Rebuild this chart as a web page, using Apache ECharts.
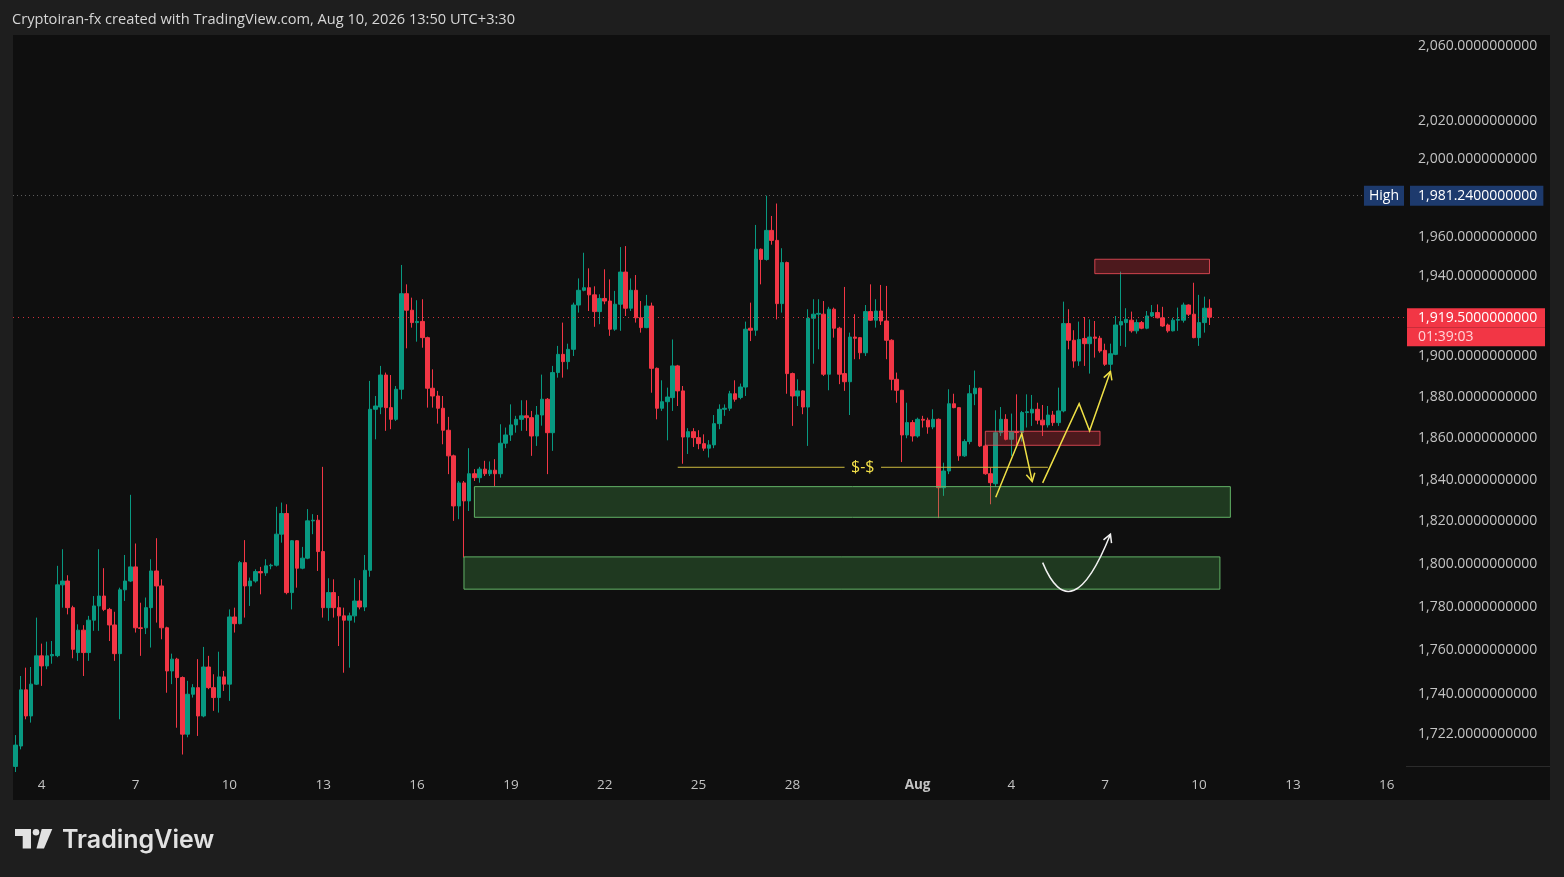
<!DOCTYPE html>
<html><head><meta charset="utf-8">
<script src="https://cdn.jsdelivr.net/npm/echarts@6/dist/echarts.min.js"></script>
<style>html,body{margin:0;padding:0;background:#1e1e1e;}#c{width:1564px;height:877px;}</style>
</head><body><div id="c"></div>
<script>
// ---- 4h candles ----
const openP = [
1707.5,1716.6,1741.9,1730.1,1744.5,1757.4,1752.8,1757.4,1757.5,1790.2,
1792.0,1779.6,1758.9,1769.2,1758.9,1773.8,1780.4,1785.0,1778.8,1771.6,
1758.4,1787.9,1792.0,1798.6,1770.3,1770.3,1779.6,1796.7,1789.7,1770.3,
1750.5,1755.9,1747.5,1721.9,1739.9,1742.9,1730.1,1752.3,1742.9,1738.4,
1747.8,1744.5,1775.3,1772.2,1800.6,1789.7,1792.0,1796.4,1795.8,1799.1,
1799.4,1814.0,1823.8,1786.6,1810.9,1798.0,1802.7,1820.3,1820.6,1805.8,
1779.6,1786.6,1779.6,1775.8,1773.8,1775.8,1782.7,1779.9,1797.0,1874.0,
1875.1,1890.8,1874.8,1869.1,1883.8,1931.3,1923.0,1916.8,1917.4,1909.3,
1884.3,1880.5,1874.5,1863.8,1851.4,1827.4,1838.4,1829.8,1842.8,1840.9,
1845.0,1842.8,1844.5,1842.8,1857.5,1861.5,1866.4,1869.1,1870.8,1869.9,
1861.0,1871.2,1878.9,1862.6,1892.0,1901.0,1897.4,1903.5,1925.6,1933.0,
1934.3,1930.7,1922.3,1928.9,1927.6,1913.5,1926.0,1942.2,1924.0,1933.0,
1919.2,1914.3,1925.1,1894.1,1874.5,1877.7,1879.7,1895.3,1883.0,1860.5,
1863.1,1860.2,1857.3,1855.1,1856.7,1867.0,1874.0,1874.5,1881.6,1879.8,
1884.9,1914.0,1913.0,1953.8,1948.6,1963.4,1958.3,1926.3,1947.0,1891.5,
1880.5,1883.0,1875.1,1919.0,1921.0,1921.0,1891.2,1923.5,1914.0,1891.5,
1887.5,1909.6,1909.3,1901.8,1922.3,1918.0,1922.6,1917.6,1908.0,1888.7,
1883.3,1861.5,1867.5,1861.0,1869.1,1868.7,1865.4,1869.1,1836.1,1844.1,
1876.7,1874.8,1851.4,1858.3,1881.6,1884.3,1856.2,1842.8,1838.0,1862.6,
1869.1,1859.4,1863.1,1862.7,1872.4,1872.2,1874.0,1868.7,1866.4,1871.2,
1867.5,1873.2,1916.3,1908.0,1897.7,1908.9,1906.3,1909.6,1909.0,1903.0,
1896.1,1901.0,1915.6,1916.8,1918.0,1912.7,1916.8,1914.0,1920.1,1921.8,
1919.2,1915.6,1912.7,1918.0,1918.0,1925.6,1921.0,1909.3,1916.8,1924.0
];
const highP = [
1721.5,1748.2,1752.0,1752.3,1775.0,1763.0,1763.9,1764.2,1799.1,1806.9,
1794.7,1780.5,1771.9,1771.5,1775.8,1785.0,1806.9,1798.0,1779.5,1777.7,
1788.9,1804.2,1832.7,1809.6,1781.9,1784.3,1802.2,1812.1,1792.8,1770.8,
1758.4,1756.5,1748.0,1746.0,1744.5,1755.9,1761.5,1757.4,1749.0,1759.3,
1750.5,1778.8,1779.6,1801.4,1811.2,1793.6,1797.5,1798.6,1802.2,1800.1,
1827.0,1829.0,1828.2,1811.2,1811.2,1808.0,1825.9,1823.5,1823.1,1846.1,
1793.3,1792.8,1785.0,1779.6,1777.3,1793.3,1792.4,1804.2,1887.9,1880.5,
1895.3,1892.0,1890.8,1885.4,1945.8,1936.0,1929.3,1928.0,1928.5,1909.8,
1893.6,1883.0,1880.5,1870.3,1852.0,1839.3,1839.3,1855.1,1845.0,1846.1,
1849.0,1848.7,1849.8,1866.7,1865.1,1876.4,1870.8,1878.4,1878.4,1873.2,
1875.6,1891.0,1879.5,1895.3,1905.2,1916.8,1906.3,1926.8,1939.0,1952.0,
1944.1,1935.0,1931.0,1943.6,1938.5,1932.7,1954.9,1955.4,1939.0,1940.7,
1927.6,1930.7,1926.8,1894.5,1888.2,1884.6,1908.4,1895.8,1885.4,1864.8,
1864.8,1863.8,1861.8,1859.0,1871.2,1876.4,1876.4,1883.0,1888.2,1886.6,
1917.3,1926.8,1966.2,1954.2,1981.24,1970.8,1977.2,1954.3,1947.5,1892.0,
1888.7,1883.3,1923.5,1928.5,1928.5,1927.6,1924.7,1924.3,1914.7,1934.7,
1911.8,1921.0,1909.6,1925.6,1936.0,1928.5,1935.7,1935.2,1908.5,1892.0,
1883.5,1877.2,1868.7,1869.9,1870.8,1869.9,1874.0,1869.5,1848.1,1883.8,
1881.6,1875.1,1859.4,1885.9,1893.0,1884.6,1857.0,1845.7,1873.5,1875.1,
1871.6,1871.9,1881.3,1873.2,1881.3,1881.0,1877.2,1876.1,1875.6,1873.2,
1884.6,1927.3,1923.5,1913.0,1917.3,1919.6,1918.4,1917.6,1910.2,1906.3,
1906.3,1920.1,1942.4,1924.0,1922.3,1918.4,1917.6,1922.6,1925.6,1925.9,
1924.7,1916.3,1919.2,1924.3,1926.8,1925.9,1936.8,1930.7,1929.8,1928.5
];
const lowP = [
1705.0,1715.1,1728.6,1727.1,1744.1,1743.7,1751.3,1753.8,1756.8,1779.6,
1776.5,1756.3,1755.1,1748.2,1755.1,1768.9,1768.9,1778.0,1764.2,1755.1,
1728.6,1782.7,1791.5,1768.1,1757.4,1767.4,1761.2,1772.7,1765.0,1740.6,
1744.5,1724.8,1712.8,1720.5,1738.4,1721.1,1729.5,1742.2,1732.4,1731.6,
1741.4,1736.9,1768.1,1771.9,1775.0,1780.4,1791.2,1785.8,1794.4,1797.5,
1798.8,1810.0,1785.8,1778.8,1788.9,1797.5,1802.2,1814.0,1796.7,1775.0,
1773.5,1775.0,1761.9,1749.7,1752.0,1772.7,1778.8,1778.0,1794.0,1859.4,
1871.6,1863.5,1864.3,1868.3,1878.9,1904.0,1914.3,1907.3,1904.3,1874.8,
1874.8,1867.0,1857.0,1842.6,1820.3,1821.1,1803.0,1825.0,1839.3,1838.5,
1841.7,1841.7,1836.9,1840.9,1855.1,1858.6,1862.6,1863.5,1863.5,1851.4,
1856.2,1866.0,1842.6,1853.8,1889.5,1889.5,1893.6,1900.2,1921.8,1932.5,
1922.6,1914.7,1916.0,1926.0,1910.2,1912.7,1912.7,1920.1,1922.6,1916.8,
1911.8,1914.0,1882.1,1869.1,1873.2,1858.9,1873.2,1875.6,1847.6,1852.3,
1855.7,1854.6,1853.8,1850.6,1855.1,1864.3,1870.8,1873.2,1877.7,1878.9,
1880.5,1907.6,1910.2,1936.0,1948.0,1956.1,1918.4,1921.8,1881.6,1865.9,
1875.6,1871.6,1856.2,1896.4,1903.5,1890.3,1883.3,1909.3,1886.3,1883.0,
1871.2,1898.6,1898.6,1900.2,1917.6,1914.3,1915.6,1898.6,1883.3,1877.2,
1848.4,1859.9,1858.3,1860.2,1865.1,1862.1,1864.3,1821.6,1832.2,1842.6,
1874.5,1849.0,1850.9,1857.0,1876.0,1855.7,1842.3,1828.2,1836.5,1861.0,
1858.9,1851.4,1855.4,1858.3,1865.1,1865.9,1866.7,1861.0,1865.1,1865.9,
1865.9,1872.5,1903.5,1894.4,1895.3,1895.3,1891.5,1899.4,1901.8,1895.3,
1893.1,1900.6,1905.2,1904.7,1911.8,1911.3,1913.5,1913.5,1919.6,1918.9,
1914.7,1911.8,1912.4,1912.7,1916.8,1920.1,1909.0,1905.2,1911.8,1915.6
];
const closeP = [
1717.0,1741.9,1730.1,1744.5,1757.4,1752.8,1757.4,1758.0,1790.2,1792.0,
1779.6,1760.4,1769.2,1758.9,1773.8,1780.4,1785.0,1778.8,1771.6,1758.4,
1787.9,1792.0,1798.6,1770.3,1770.0,1779.6,1796.7,1789.7,1770.3,1750.5,
1755.9,1747.5,1721.9,1739.9,1742.9,1730.1,1752.3,1742.9,1738.4,1747.8,
1744.5,1775.3,1772.2,1800.6,1789.7,1792.0,1796.4,1795.8,1799.1,1799.4,
1814.0,1823.8,1786.6,1810.9,1798.0,1802.7,1820.3,1820.6,1805.8,1779.6,
1786.6,1779.6,1775.8,1773.8,1775.8,1782.7,1779.9,1797.0,1874.0,1875.6,
1890.8,1874.8,1869.1,1883.8,1931.3,1923.0,1916.8,1917.4,1909.3,1884.3,
1880.5,1874.5,1863.8,1851.4,1827.4,1838.4,1829.8,1842.8,1840.9,1845.0,
1842.8,1844.5,1842.8,1857.5,1861.5,1866.4,1869.1,1870.8,1869.9,1861.0,
1871.2,1878.9,1862.6,1892.0,1901.0,1897.4,1903.5,1925.6,1933.0,1934.3,
1930.7,1922.3,1928.9,1927.6,1913.5,1926.0,1942.2,1924.0,1933.0,1919.2,
1914.3,1925.1,1894.1,1874.5,1877.7,1880.0,1895.3,1883.0,1860.5,1863.1,
1860.2,1857.3,1855.1,1856.7,1867.0,1874.0,1874.5,1881.6,1878.9,1884.9,
1913.5,1913.0,1953.8,1948.6,1963.4,1958.3,1926.3,1947.0,1891.5,1880.5,
1883.0,1875.1,1919.0,1921.0,1921.4,1891.2,1923.5,1914.0,1891.2,1887.5,
1909.6,1909.0,1901.8,1922.3,1918.0,1922.6,1917.6,1908.0,1888.7,1883.3,
1861.5,1867.5,1861.0,1869.1,1868.7,1865.4,1869.1,1836.1,1844.1,1876.7,
1874.8,1851.4,1858.3,1881.6,1884.3,1856.2,1842.8,1838.5,1862.6,1869.1,
1859.4,1863.1,1862.7,1872.4,1872.8,1874.0,1868.7,1866.4,1871.2,1867.5,
1873.2,1916.3,1908.0,1897.7,1908.4,1906.3,1909.6,1909.0,1902.7,1896.1,
1901.3,1915.6,1917.3,1918.4,1912.7,1916.8,1914.0,1920.1,1921.8,1919.2,
1915.1,1912.7,1918.0,1918.3,1925.6,1921.0,1909.3,1916.8,1924.0,1919.5
];

// ---- axis texts ----
const priceTicks = [2060,2020,2000,1960,1940,1900,1880,1860,1840,1820,1800,1780,1760,1740,1722];
const highValue = 1981.24;
const lastPrice = 1919.5;
const countdown = '01:39:03';
const dayTicks = ['07-04','07-07','07-10','07-13','07-16','07-19','07-22','07-25','07-28','08-01','08-04','08-07','08-10','08-13','08-16'];
const dayTickText = ['4','7','10','13','16','19','22','25','28','Aug','4','7','10','13','16'];
const titleText = 'Cryptoiran-fx created with TradingView.com, Aug 10, 2026 13:50 UTC+3:30';

// ---- drawings, in [candle index, price] ----
const greenZones = [[88,233,1836.6,1822.0],[86,231,1803.3,1788.2]];
const redZones = [[207,229,1948.7,1941.4],[186,208,1863.3,1856.5]];
const liquidityLine = [127,198,1845.9];
const liquidityGap = [159,166];
const liquidityText = '$-$';
const yellowPaths = [
  [[188,1831.5],[193,1862.2],[195,1839.1]],
  [[197,1838.4],[204,1876.7],[206,1863.5],[210,1892.5]]
];
const whiteCurve = [[197,1800.6],[203,1787.7],[210,1814.0]];

// ---- build ----
const slotCount = 267;
const t0 = Date.UTC(2026,6,3,4);
const pad = n => String(n).padStart(2,'0');
const categories = [];
for (let k = 0; k < slotCount; k++) {
  const d = new Date(t0 + k*4*3600e3);
  categories.push(pad(d.getUTCMonth()+1)+'-'+pad(d.getUTCDate())+' '+pad(d.getUTCHours())+':00');
}
const labelMap = {};
dayTicks.forEach((d,k) => { labelMap[d+' 00:00'] = dayTickText[k]; });
const candleData = openP.map((o,k) => [o, closeP[k], lowP[k], highP[k]]);
const fmt = v => v.toLocaleString('en-US',{minimumFractionDigits:10,maximumFractionDigits:10});
const FONT = '"Open Sans", "Noto Sans", sans-serif';
const HIDDEN = {color:'rgba(0,0,0,0)', width:1, opacity:1, type:'solid'};

const drawings = [];
greenZones.forEach(z => drawings.push({kind:'zone', z:z, tone:'green'}));
redZones.forEach(z => drawings.push({kind:'zone', z:z, tone:'red'}));
drawings.push({kind:'liq'});
yellowPaths.forEach(p => drawings.push({kind:'path', p:p}));
drawings.push({kind:'curve', p:whiteCurve});

function head(tip, from, len, ang) {
  const dx = tip[0]-from[0], dy = tip[1]-from[1];
  const L = Math.hypot(dx,dy) || 1; const ux = dx/L, uy = dy/L;
  const out = [];
  [-1,1].forEach(s => {
    const c = Math.cos(ang*s), sn = Math.sin(ang*s);
    const rx = ux*c - uy*sn, ry = ux*sn + uy*c;
    out.push([tip[0]-rx*len, tip[1]-ry*len]);
  });
  return [out[0], tip, out[1]];
}

function renderItem(params, api) {
  const d = drawings[params.dataIndex];
  if (d.kind === 'zone') {
    const a = api.coord([d.z[0], d.z[2]]), b = api.coord([d.z[1], d.z[3]]);
    const g = d.tone === 'green';
    return {type:'rect', shape:{x:a[0], y:a[1], width:b[0]-a[0], height:b[1]-a[1]},
      style:{fill: g ? 'rgba(76,175,80,0.27)' : 'rgba(242,54,69,0.28)',
             stroke: g ? 'rgba(102,187,106,0.95)' : 'rgba(235,75,88,0.85)', lineWidth:1}};
  }
  if (d.kind === 'liq') {
    const p0 = api.coord([liquidityLine[0], liquidityLine[2]]);
    const p1 = api.coord([liquidityLine[1], liquidityLine[2]]);
    const g0 = api.coord([liquidityGap[0], liquidityLine[2]]);
    const g1 = api.coord([liquidityGap[1], liquidityLine[2]]);
    return {type:'group', children:[
      {type:'line', shape:{x1:p0[0], y1:p0[1], x2:g0[0], y2:g0[1]}, style:{stroke:'#cdbb3f', lineWidth:1}},
      {type:'line', shape:{x1:g1[0], y1:g1[1], x2:p1[0], y2:p1[1]}, style:{stroke:'#cdbb3f', lineWidth:1}},
      {type:'text', style:{x:(g0[0]+g1[0])/2, y:p0[1], text:liquidityText, fill:'#f3e04a',
        font:'16px ' + FONT, align:'center', verticalAlign:'middle'}}
    ]};
  }
  if (d.kind === 'path') {
    const pts = d.p.map(q => api.coord(q));
    const n = pts.length;
    return {type:'group', children:[
      {type:'polyline', shape:{points:pts}, style:{stroke:'#efe046', lineWidth:1.5, fill:null}},
      {type:'polyline', shape:{points:head(pts[n-1], pts[n-2], 9, 0.5)}, style:{stroke:'#efe046', lineWidth:1.5, fill:null}}
    ]};
  }
  if (d.kind === 'curve') {
    const s = api.coord(d.p[0]), m = api.coord(d.p[1]), e = api.coord(d.p[2]);
    const c = [2*m[0]-(s[0]+e[0])/2, 2*m[1]-(s[1]+e[1])/2];
    return {type:'group', children:[
      {type:'bezierCurve', shape:{x1:s[0], y1:s[1], x2:e[0], y2:e[1], cpx1:c[0], cpy1:c[1]}, style:{stroke:'#f2f2f2', lineWidth:1.5, fill:null}},
      {type:'polyline', shape:{points:head(e, c, 9, 0.5)}, style:{stroke:'#f2f2f2', lineWidth:1.5, fill:null}}
    ]};
  }
  return null;
}

const markData = priceTicks.map(v => ({
  yAxis: v, lineStyle: HIDDEN,
  label:{formatter: fmt(v), position:'end', distance:13, color:'#c3c3c3', fontSize:14, fontFamily:FONT, opacity:1}
}));
markData.push({
  yAxis: highValue, lineStyle:{color:'#5c5c5c', type:[1,3], width:1, opacity:1},
  label:{formatter: fmt(highValue), position:'end', distance:5, color:'#ffffff', fontSize:14, fontFamily:FONT,
    backgroundColor:'#1d3a6d', padding:[3,6,3,8], opacity:1}
});
markData.push({
  yAxis: highValue, lineStyle: HIDDEN,
  label:{formatter:'High', position:'insideEnd', distance:1, color:'#ffffff', fontSize:14, fontFamily:FONT,
    backgroundColor:'#1d3a6d', padding:[3,5,3,5], opacity:1}
});
markData.push({
  yAxis: lastPrice, lineStyle:{color:'#f23645', type:[1,4], width:1, opacity:0.85},
  label:{formatter:'{sp| }\n{a|' + fmt(lastPrice) + '}\n{b|' + countdown + '}', position:'end', distance:2, opacity:1,
    rich:{
      sp:{fontSize:1, lineHeight:20, height:20},
      a:{fontSize:14, fontFamily:FONT, color:'#ffffff', backgroundColor:'#f23645', width:127, height:19, lineHeight:19, padding:[0,0,0,11]},
      b:{fontSize:14, fontFamily:FONT, color:'#ffd3d7', backgroundColor:'#f23645', width:127, height:19, lineHeight:19, padding:[0,0,0,11]}
    }}
});

const chart = echarts.init(document.getElementById('c'), null, {renderer:'canvas'});
chart.setOption({
  backgroundColor:'#1e1e1e',
  animation:false,
  grid:{left:13, right:159, top:35, bottom:110, containLabel:false},
  xAxis:{
    type:'category', data:categories, boundaryGap:true, z:5,
    axisLine:{show:false}, axisTick:{show:false}, splitLine:{show:false},
    axisLabel:{
      interval:(idx, val) => labelMap[val] !== undefined,
      formatter:(val) => labelMap[val] === 'Aug' ? '{b|Aug}' : (labelMap[val] || ''),
      color:'#c3c3c3', fontSize:13.5, fontFamily:FONT, margin:11,
      rich:{b:{fontWeight:'bold', color:'#c3c3c3', fontSize:13.5, fontFamily:FONT}}
    }
  },
  yAxis:{
    type:'log', logBase:10, min:1707.24, max:2065.94, position:'right',
    axisLine:{show:false}, axisTick:{show:false}, axisLabel:{show:false}, splitLine:{show:false}
  },
  graphic:[
    {type:'rect', z:-10, silent:true, shape:{x:13, y:35, width:1537, height:765}, style:{fill:'#0f0f0f'}},
    {type:'line', z:-5, silent:true, shape:{x1:1406, y1:766.5, x2:1550, y2:766.5}, style:{stroke:'#2b2b2b', lineWidth:1}},
    {type:'text', silent:true, style:{x:12, y:20, text:titleText, fill:'#d6d6d6', font:'14.6px ' + FONT, verticalAlign:'middle'}},
    {type:'polygon', silent:true, shape:{points:[[15,829],[31,829],[31,848.5],[22.7,848.5],[22.7,836],[15,836]]}, style:{fill:'#e2e2e2'}},
    {type:'circle', silent:true, shape:{cx:36, cy:832.3, r:3.3}, style:{fill:'#e2e2e2'}},
    {type:'polygon', silent:true, shape:{points:[[41.7,829],[52.3,829],[44,848.5],[36.5,848.5]]}, style:{fill:'#e2e2e2'}},
    {type:'text', silent:true, style:{x:62, y:840, text:'TradingView', fill:'#e2e2e2', font:'600 25px Inter, "Open Sans", sans-serif', verticalAlign:'middle'}}
  ],
  series:[
    {
      type:'candlestick', data:candleData, barWidth:4, z:2,
      itemStyle:{color:'#089981', color0:'#f23645', borderColor:'#089981', borderColor0:'#f23645', borderWidth:1},
      markLine:{silent:true, symbol:['none','none'], animation:false, data:markData}
    },
    {
      type:'custom', z:3, silent:true, clip:false,
      data: drawings.map((d,k) => [k, 1850]),
      renderItem: renderItem
    }
  ]
});
</script>
</body></html>
